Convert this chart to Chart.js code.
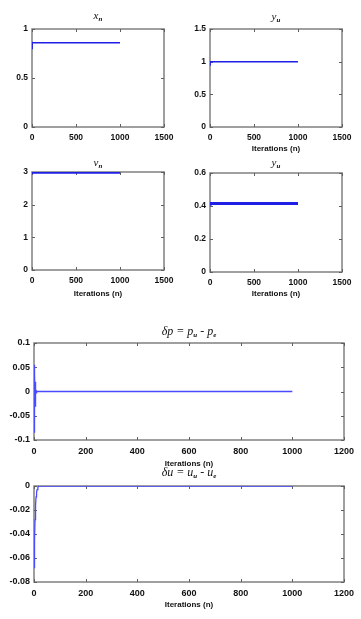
<!DOCTYPE html>
<html><head><meta charset="utf-8">
<script src="https://cdn.jsdelivr.net/npm/chart.js@4.4.1/dist/chart.umd.min.js"></script>
<style>
html,body{margin:0;padding:0;background:#fff;width:361px;height:619px;overflow:hidden}
canvas{position:absolute}
</style></head><body>
<canvas id="c1" style="left:0px;top:0px"></canvas>
<canvas id="c2" style="left:180px;top:0px"></canvas>
<canvas id="c3" style="left:0px;top:145px"></canvas>
<canvas id="c4" style="left:180px;top:145px"></canvas>
<canvas id="c5" style="left:0px;top:315px"></canvas>
<canvas id="c6" style="left:0px;top:455px"></canvas>
<script>
// ---- data ----
const iterX = [0, 1, 2, 3, 1000];
const xn = [0.80, 0.87, 0.86, 0.86, 0.86];
const iterY = [0, 1, 2, 1000];
const yn = [0.95, 1.0, 1.0, 1.0];
const iterV = [0, 1, 2, 1000];
const vn = [2.96, 2.98, 2.98, 2.98];
const iterU = [0, 1, 2, 1000];
const yu = [0.41, 0.415, 0.415, 0.415];
const iterDp = [0, 1, 2, 3, 4, 5, 6, 7, 8, 10, 12, 1000];
const dp = [0, 0.055, -0.085, 0.04, -0.03, 0.02, -0.012, 0.006, -0.003, 0.001, 0, 0];
const iterDu = [0, 2, 4, 6, 8, 10, 12, 15, 20, 1000];
const du = [-0.068, -0.045, -0.028, -0.016, -0.009, -0.005, -0.003, -0.001, 0, 0];

const xTicksTop = [0, 500, 1000, 1500];
const xTicksBottom = [0, 200, 400, 600, 800, 1000, 1200];
const yTicks1 = [0, 0.5, 1];
const yTicks2 = [0, 0.5, 1, 1.5];
const yTicks3 = [0, 1, 2, 3];
const yTicks4 = [0, 0.2, 0.4, 0.6];
const yTicks5 = [-0.1, -0.05, 0, 0.05, 0.1];
const yTicks6 = [-0.08, -0.06, -0.04, -0.02, 0];
const yLabels5 = ['-0.1', '-0.05', '0', '0.05', '0.1'];
const yLabels6 = ['-0.08', '-0.06', '-0.04', '-0.02', '0'];

const title1 = [['x', 0], ['n', 1]];
const title2 = [['y', 0], ['u', 1]];
const title3 = [['v', 0], ['n', 1]];
const title4 = [['y', 0], ['u', 1]];
const title5 = [['\u03B4p = p', 0], ['u', 1], [' - p', 0], ['e', 1]];
const title6 = [['\u03B4u = u', 0], ['u', 1], [' - u', 0], ['e', 1]];
const xLabel = 'Iterations (n)';

const framePlugin = {
  id: 'frame',
  beforeDatasetsDraw(chart) {
    const { ctx, chartArea: a, scales } = chart;
    ctx.save();
    ctx.strokeStyle = '#808080'; ctx.lineWidth = 1.5;
    ctx.strokeRect(a.left, a.top, a.right - a.left, a.bottom - a.top);
    ctx.lineWidth = 1; ctx.strokeStyle = '#606060';
    const tl = 3;
    scales.x.ticks.forEach(t => {
      const px = Math.round(scales.x.getPixelForValue(t.value)) + 0.5;
      ctx.beginPath();
      ctx.moveTo(px, a.bottom); ctx.lineTo(px, a.bottom - tl);
      ctx.moveTo(px, a.top); ctx.lineTo(px, a.top + tl);
      ctx.stroke();
    });
    scales.y.ticks.forEach(t => {
      const py = Math.round(scales.y.getPixelForValue(t.value)) + 0.5;
      ctx.beginPath();
      ctx.moveTo(a.left, py); ctx.lineTo(a.left + tl, py);
      ctx.moveTo(a.right, py); ctx.lineTo(a.right - tl, py);
      ctx.stroke();
    });
    ctx.restore();
  },
  afterDraw(chart, args, opts) {
    const { ctx, chartArea: a } = chart;
    const segs = opts.segs || [];
    const main = 'italic ' + opts.size + 'px "Liberation Serif", "DejaVu Serif", serif';
    const sub = 'italic bold 7px "Liberation Serif", "DejaVu Serif", serif';
    ctx.save();
    ctx.fillStyle = '#111';
    ctx.textBaseline = 'middle';
    let total = 0;
    segs.forEach(s => { ctx.font = s[1] ? sub : main; total += ctx.measureText(s[0]).width; });
    let x = (a.left + a.right) / 2 - total / 2;
    segs.forEach(s => {
      ctx.font = s[1] ? sub : main;
      ctx.fillText(s[0], x, opts.y + (s[1] ? 3 : 0));
      x += ctx.measureText(s[0]).width;
    });
    ctx.restore();
  }
};

function makeChart(id, c) {
  const el = document.getElementById(id);
  el.width = c.w; el.height = c.h;
  el.style.width = c.w + 'px'; el.style.height = c.h + 'px';
  const pts = c.xs.map((x, i) => ({ x: x, y: c.ys[i] }));
  const tickFont = { family: 'Liberation Sans, Arial, sans-serif', size: c.fs, weight: 'bold' };
  new Chart(el, {
    type: 'line',
    data: { datasets: [{ data: pts, borderColor: c.color || '#1f1fe6', borderWidth: c.lw, pointRadius: 0, tension: 0, fill: false }] },
    plugins: [framePlugin],
    options: {
      responsive: false, animation: false, devicePixelRatio: 1,
      layout: { padding: { left: 0, top: c.area[1], right: c.w - c.area[2], bottom: 0 } },
      plugins: { legend: { display: false }, tooltip: { enabled: false }, frame: { segs: c.title, y: c.titleY, size: c.ts || 11 } },
      scales: {
        x: {
          type: 'linear', min: c.xTicks[0], max: c.xTicks[c.xTicks.length - 1],
          grid: { display: false, drawTicks: false }, border: { display: false },
          afterBuildTicks: s => { s.ticks = c.xTicks.map(v => ({ value: v })); },
          afterFit: s => { s.height = c.h - c.area[3]; },
          ticks: { padding: 6, maxRotation: 0, autoSkip: false, color: '#111', font: tickFont,
            callback: function (v, i) { return String(c.xTicks[i]); } },
          title: { display: !!c.xlabel, text: xLabel, color: '#111', padding: { top: 0, bottom: c.xlPad || 0 }, font: { family: 'Liberation Sans, Arial, sans-serif', size: 8, weight: 'bold', lineHeight: 1.2 } }
        },
        y: {
          type: 'linear', min: c.yTicks[0], max: c.yTicks[c.yTicks.length - 1],
          grid: { display: false, drawTicks: false }, border: { display: false },
          afterBuildTicks: s => { s.ticks = c.yTicks.map(v => ({ value: v })); },
          afterFit: s => { s.width = c.area[0]; },
          ticks: {
            padding: 4, autoSkip: false, color: '#111', font: tickFont,
            callback: function (v, i) { return c.yLabels ? c.yLabels[i] : String(c.yTicks[i]); }
          }
        }
      }
    }
  });
}

makeChart('c1', { w: 180, h: 150, area: [32, 29, 164, 127], xs: iterX, ys: xn, xTicks: xTicksTop, yTicks: yTicks1, title: title1, titleY: 16, xlabel: false, lw: 1.5, fs: 8.5 });
makeChart('c2', { w: 181, h: 160, area: [30, 29, 162, 127], xs: iterY, ys: yn, xTicks: xTicksTop, yTicks: yTicks2, title: title2, titleY: 17, xlabel: true, xlPad: 6, lw: 1.5, fs: 8.5 });
makeChart('c3', { w: 180, h: 160, area: [32, 27, 164, 125], xs: iterV, ys: vn, xTicks: xTicksTop, yTicks: yTicks3, title: title3, titleY: 18, xlabel: true, xlPad: 6, lw: 2, fs: 8.5 });
makeChart('c4', { w: 181, h: 160, area: [30, 28, 162, 127], xs: iterU, ys: yu, xTicks: xTicksTop, yTicks: yTicks4, title: title4, titleY: 18, xlabel: true, xlPad: 6, lw: 3, fs: 8.5 });
makeChart('c5', { w: 361, h: 160, area: [34, 28, 344, 125], xs: iterDp, ys: dp, xTicks: xTicksBottom, yTicks: yTicks5, yLabels: yLabels5, title: title5, titleY: 17, ts: 12, xlabel: true, xlPad: 6, lw: 1.3, fs: 9, color: '#4a4aff' });
makeChart('c6', { w: 361, h: 160, area: [34, 31, 344, 127], xs: iterDu, ys: du, xTicks: xTicksBottom, yTicks: yTicks6, yLabels: yLabels6, title: title6, titleY: 18, ts: 12, xlabel: true, xlPad: 5, lw: 1.3, fs: 9, color: '#4a4aff' });
</script>
</body></html>
